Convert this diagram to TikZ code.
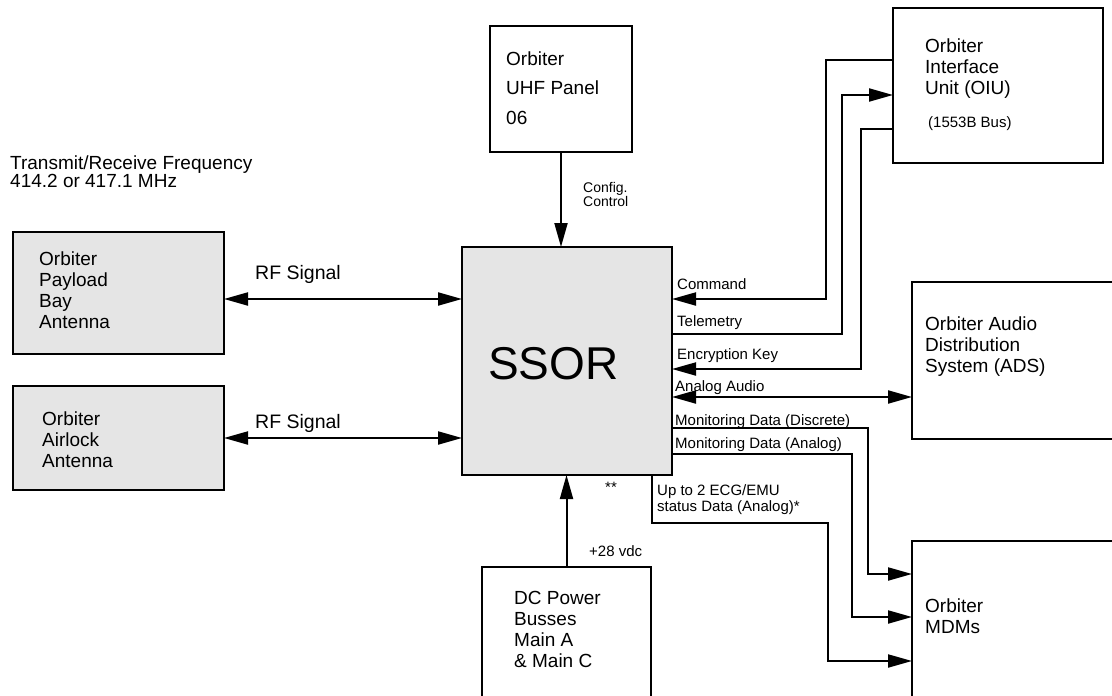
\documentclass[tikz,border=0pt]{standalone}
\usepackage{fontspec}
\setmainfont{Liberation Sans}
\usetikzlibrary{arrows.meta}
\begin{document}
\begin{tikzpicture}[x=1pt,y=-1pt,
  box/.style={draw=black,line width=2pt,anchor=north west,inner sep=0pt,outer sep=0pt},
  gbox/.style={box,fill=black!10},
  conn/.style={line width=2pt},
  tip/.style={-{Triangle[length=24pt,width=13pt]}},
  dtip/.style={{Triangle[length=24pt,width=13pt]}-{Triangle[length=24pt,width=13pt]}},
  big/.style={anchor=base west,inner sep=0pt,align=left,font=\fontsize{19}{21}\selectfont},
  small/.style={anchor=base west,inner sep=0pt,align=left,font=\fontsize{15}{15.7}\selectfont}]
\path[use as bounding box] (0,0) rectangle (1112,696);
\clip (0,0) rectangle (1112,696);

% boxes
\node[gbox,minimum width=211pt,minimum height=122pt] (pay) at (13,232) {};
\node[gbox,minimum width=211pt,minimum height=104pt] (air) at (13,386) {};
\node[gbox,minimum width=210pt,minimum height=228pt] (ssor) at (462,247) {};
\node[box,minimum width=142pt,minimum height=126pt] (uhf) at (490,26) {};
\node[box,minimum width=210pt,minimum height=155pt] (oiu) at (893,8) {};
\node[box,minimum width=230pt,minimum height=157pt] (ads) at (912,282) {};
\node[box,minimum width=230pt,minimum height=200pt] (mdm) at (912,541) {};
\node[box,minimum width=169pt,minimum height=150pt] (dc) at (482,567) {};

% box texts (base = baseline of last line)
\node[big] (tpay) at (39,328) {Orbiter\\Payload\\Bay\\Antenna};
\node[big] (tair) at (42,467) {Orbiter\\Airlock\\Antenna};
\node[anchor=base west,inner sep=0pt,font=\fontsize{46}{50}\selectfont] (tssor) at (488,379) {SSOR};
\node[anchor=base west,inner sep=0pt,align=left,font=\fontsize{19}{29.5}\selectfont] (tuhf) at (506,124) {Orbiter\\UHF Panel\\06};
\node[big] (toiu) at (925,94) {Orbiter\\Interface\\Unit (OIU)};
\node[small] (tbus) at (928,127) {(1553B Bus)};
\node[big] (tads) at (925,372) {Orbiter Audio\\Distribution\\System (ADS)};
\node[big] (tmdm) at (925,633) {Orbiter\\MDMs};
\node[big] (tdc) at (514,667) {DC Power\\Busses\\Main A\\\& Main C};

% free labels
\node[big,font=\fontsize{19}{18}\selectfont] (tfreq) at (10,187) {Transmit/Receive Frequency\\414.2 or 417.1 MHz};
\node[big,font=\fontsize{19.5}{21}\selectfont] (rf1) at (255,279) {RF Signal};
\node[big,font=\fontsize{19.5}{21}\selectfont] (rf2) at (255,428) {RF Signal};
\node[small,font=\fontsize{14}{14}\selectfont] (tcfg) at (583,206) {Config.\\Control};
\node[small] (tvdc) at (589,556) {+28 vdc};
\node[small] (tstar) at (605,492) {**};
\node[small] (tecg) at (657,511) {Up to 2 ECG/EMU\\status Data (Analog)*};
\node[small] (tcmd) at (677,289) {Command};
\node[small] (ttlm) at (677,326) {Telemetry};
\node[small] (tenc) at (677,359) {Encryption Key};
\node[small] (taud) at (675,391) {Analog Audio};
\node[small] (tmdd) at (675,425) {Monitoring Data (Discrete)};
\node[small] (tmda) at (675,448) {Monitoring Data (Analog)};

% reference rows
\coordinate (y299) at (0,299);
\coordinate (y438) at (0,438);
\coordinate (y60) at (0,60);
\coordinate (y95) at (0,95);
\coordinate (y129) at (0,129);
\coordinate (y334) at (0,334);
\coordinate (y369) at (0,369);
\coordinate (y397) at (0,397);
\coordinate (y428) at (0,428);
\coordinate (y454) at (0,454);
\coordinate (y574) at (0,574);
\coordinate (y617) at (0,617);
\coordinate (y661) at (0,661);
\coordinate (x652) at (652,0);

% connectors
\draw[conn,dtip] (pay.east |- y299) -- (ssor.west |- y299);
\draw[conn,dtip] (air.east |- y438) -- (ssor.west |- y438);
\draw[conn,tip] (uhf.south) -- (uhf.south |- ssor.north);
\draw[conn,tip] (dc.north) -- (dc.north |- ssor.south);
\draw[conn,tip] (oiu.west |- y60) -- (826,60) -- (826,299) -- (ssor.east |- y299);
\draw[conn,tip] (ssor.east |- y334) -- (842,334) -- (842,95) -- (oiu.west |- y95);
\draw[conn,tip] (oiu.west |- y129) -- (861,129) -- (861,369) -- (ssor.east |- y369);
\draw[conn,dtip] (ssor.east |- y397) -- (ads.west |- y397);
\draw[conn,tip] (ssor.east |- y428) -- (868,428) -- (868,574) -- (mdm.west |- y574);
\draw[conn,tip] (ssor.east |- y454) -- (852,454) -- (852,617) -- (mdm.west |- y617);
\draw[conn,tip] (ssor.south -| x652) -- (652,523) -- (828,523) -- (828,661) -- (mdm.west |- y661);
\end{tikzpicture}
\end{document}
